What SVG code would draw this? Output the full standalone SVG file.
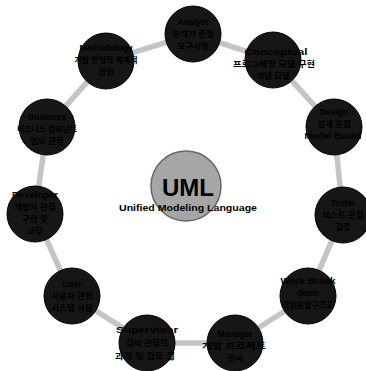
<svg xmlns="http://www.w3.org/2000/svg" width="366" height="371" viewBox="0 0 366 371">
<style>
.node circle{fill:#161616;stroke:#000;stroke-width:1}
.node text{font-family:"Liberation Sans","Noto Sans CJK KR",sans-serif;font-weight:bold;font-size:8.5px;fill:#000;text-anchor:middle}
.conn line{stroke:#c4c4c4;stroke-width:5.5;stroke-linecap:butt}
.center circle{fill:#a6a6a6;stroke:#666;stroke-width:1.5}
.center text{font-family:"Liberation Sans",sans-serif;font-weight:bold;fill:#000;text-anchor:middle}
</style>
<rect width="366" height="371" fill="#fff"/>
<g id="connectors" class="conn">
<line x1="219.6" y1="42.7" x2="246.4" y2="51.3"/>
<line x1="291.8" y1="80.7" x2="315.2" y2="106.3"/>
<line x1="336.8" y1="154.8" x2="340.2" y2="187.2"/>
<line x1="331.9" y1="240.7" x2="319.1" y2="270.3"/>
<line x1="284.5" y1="311.2" x2="258.5" y2="327.8"/>
<line x1="207" y1="343" x2="175" y2="343"/>
<line x1="123.3" y1="328.1" x2="95.7" y2="310.9"/>
<line x1="60.5" y1="270.5" x2="46.5" y2="239.5"/>
<line x1="38.8" y1="186.3" x2="43.2" y2="154.7"/>
<line x1="65.7" y1="106.1" x2="87.3" y2="81.9"/>
<line x1="132.7" y1="52.7" x2="166.3" y2="42.3"/>
</g>
<g id="uml" class="center">
<circle cx="186" cy="186" r="35"/>
<text x="188" y="196" font-size="24">UML</text>
<text x="188" y="211" font-size="9.5" textLength="138" lengthAdjust="spacingAndGlyphs">Unified Modeling Language</text>
</g>
<g id="n1" class="node">
<circle cx="193" cy="34" r="28"/>
<text x="193" y="25">Analyst</text>
<text x="193" y="37">분석가 관점</text>
<text x="193" y="49">요구사항</text>
</g>
<g id="n2" class="node">
<circle cx="273" cy="60" r="28"/>
<text x="276" y="55" textLength="63" lengthAdjust="spacingAndGlyphs">Conceptual</text>
<text x="274" y="67" textLength="82" lengthAdjust="spacingAndGlyphs">프로그래밍 모델 구현</text>
<text x="273" y="79">개념 모델</text>
</g>
<g id="n3" class="node">
<circle cx="334" cy="127" r="28"/>
<text x="334" y="115">Design</text>
<text x="334" y="127">설계 관점</text>
<text x="333" y="139" textLength="57" lengthAdjust="spacingAndGlyphs">Model Based</text>
</g>
<g id="n4" class="node">
<circle cx="343" cy="215" r="28"/>
<text x="343" y="206">Tester</text>
<text x="343" y="218">테스트 관점</text>
<text x="343" y="230">검증</text>
</g>
<g id="n5" class="node">
<circle cx="308" cy="296" r="28"/>
<text x="308" y="284" textLength="55" lengthAdjust="spacingAndGlyphs">Work Break</text>
<text x="308" y="296">down</text>
<text x="308" y="308" textLength="52" lengthAdjust="spacingAndGlyphs">작업분할구조도</text>
</g>
<g id="n6" class="node">
<circle cx="235" cy="343" r="28"/>
<text x="235" y="337">Manager</text>
<text x="234" y="349" textLength="64" lengthAdjust="spacingAndGlyphs">개발 프로젝트</text>
<text x="235" y="361">관리</text>
</g>
<g id="n7" class="node">
<circle cx="147" cy="343" r="28"/>
<text x="147" y="333" textLength="62" lengthAdjust="spacingAndGlyphs">Supervisor</text>
<text x="147" y="346">감리 관점의</text>
<text x="145" y="359" textLength="60" lengthAdjust="spacingAndGlyphs">과정 및 검토 결</text>
</g>
<g id="n8" class="node">
<circle cx="72" cy="296" r="28"/>
<text x="72" y="287">User</text>
<text x="72" y="299">사용자 관점</text>
<text x="72" y="311">시스템 사용</text>
</g>
<g id="n9" class="node">
<circle cx="35" cy="214" r="28"/>
<text x="35" y="198" textLength="46" lengthAdjust="spacingAndGlyphs">Developer</text>
<text x="35" y="210">개발자 관점</text>
<text x="35" y="222">구현 및</text>
<text x="35" y="234">코딩</text>
</g>
<g id="n10" class="node">
<circle cx="47" cy="127" r="28"/>
<text x="47" y="120">Business</text>
<text x="47" y="132" textLength="60" lengthAdjust="spacingAndGlyphs">비즈니스 컴포넌트</text>
<text x="47" y="144">업무 관점</text>
</g>
<g id="n11" class="node">
<circle cx="106" cy="61" r="28"/>
<text x="106" y="51">Methodology</text>
<text x="106" y="63" textLength="63" lengthAdjust="spacingAndGlyphs">개발 방법의 체계적</text>
<text x="106" y="75">정립</text>
</g>
</svg>
